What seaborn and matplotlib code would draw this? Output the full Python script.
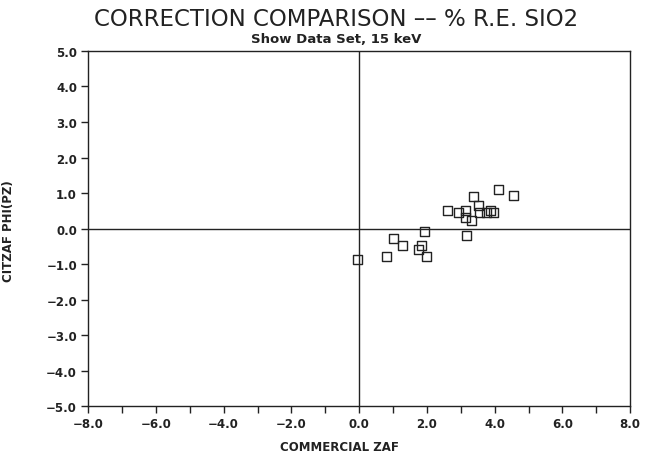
import matplotlib
matplotlib.use("Agg")
import matplotlib.pyplot as plt
import seaborn as sns
import pandas as pd
from matplotlib.ticker import MultipleLocator

commercial_zaf = [-0.06, 0.81, 1.00, 1.27, 1.74, 1.84, 1.98, 1.93, 2.60, 2.93, 3.15, 3.13,
                  3.32, 3.39, 3.52, 3.54, 3.76, 3.89, 3.98, 4.10, 4.55, 3.17]
citzaf_phipz = [-0.86, -0.78, -0.28, -0.49, -0.58, -0.47, -0.78, -0.08, 0.52, 0.44, 0.52, 0.30,
                0.23, 0.91, 0.64, 0.44, 0.44, 0.52, 0.44, 1.11, 0.92, -0.19]

x_ticks = [-8, -6, -4, -2, 0, 2, 4, 6, 8]
y_ticks = [-5, -4, -3, -2, -1, 0, 1, 2, 3, 4, 5]

df = pd.DataFrame({"x": commercial_zaf, "y": citzaf_phipz})

sns.set_style("white")
plt.rcParams['font.family'] = ['DejaVu Sans']

fig = plt.figure(figsize=(6.53, 4.60), dpi=100)
ax = fig.add_axes([0.135, 0.115, 0.83, 0.772])

ink = "#222222"
ax.axhline(0, color=ink, lw=1.0, zorder=1)
ax.axvline(0, color=ink, lw=1.0, zorder=1)

sns.scatterplot(data=df, x="x", y="y", ax=ax, marker="s", s=42,
                facecolor="none", edgecolor=ink, linewidth=1.0, zorder=3)

ax.set_xlim(-8, 8)
ax.set_ylim(-5, 5)
ax.set_xticks(x_ticks)
ax.set_xticklabels([f"{v:.1f}".replace("-", "\u2212") for v in x_ticks])
ax.set_yticks(y_ticks)
ax.set_yticklabels([f"{v:.1f}".replace("-", "\u2212") for v in y_ticks])
ax.xaxis.set_minor_locator(MultipleLocator(1))

for s in ax.spines.values():
    s.set_color(ink)
    s.set_linewidth(1.0)

ax.tick_params(axis="x", which="both", bottom=True, top=False, direction="out", length=5,
               width=1, color=ink, labelsize=8.5, labelcolor=ink, pad=3)
ax.tick_params(axis="y", which="both", left=True, right=False, direction="out", length=5,
               width=1, color=ink, labelsize=8.5, labelcolor=ink, pad=3)
for lbl in ax.get_xticklabels() + ax.get_yticklabels():
    lbl.set_fontweight("bold")

ax.set_xlabel("")
ax.set_ylabel("")
fig.text(339 / 653, 1 - 448 / 460, "COMMERCIAL ZAF", ha="center", va="center",
         fontsize=8.5, fontweight="bold", color=ink)
fig.text(9 / 653, 1 - 231 / 460, "CITZAF PHI(PZ)", ha="center", va="center", rotation=90,
         fontsize=8.5, fontweight="bold", color=ink)

fig.text(336 / 653, 1 - 19 / 460, "CORRECTION COMPARISON \u2013\u2013 % R.E. SIO2", ha="center",
         va="center", fontsize=16.5, color=ink)
fig.text(336 / 653, 1 - 40 / 460, "Show Data Set, 15 keV", ha="center", va="center",
         fontsize=9.5, fontweight="bold", color=ink)

fig.savefig("out.png", dpi=100)
